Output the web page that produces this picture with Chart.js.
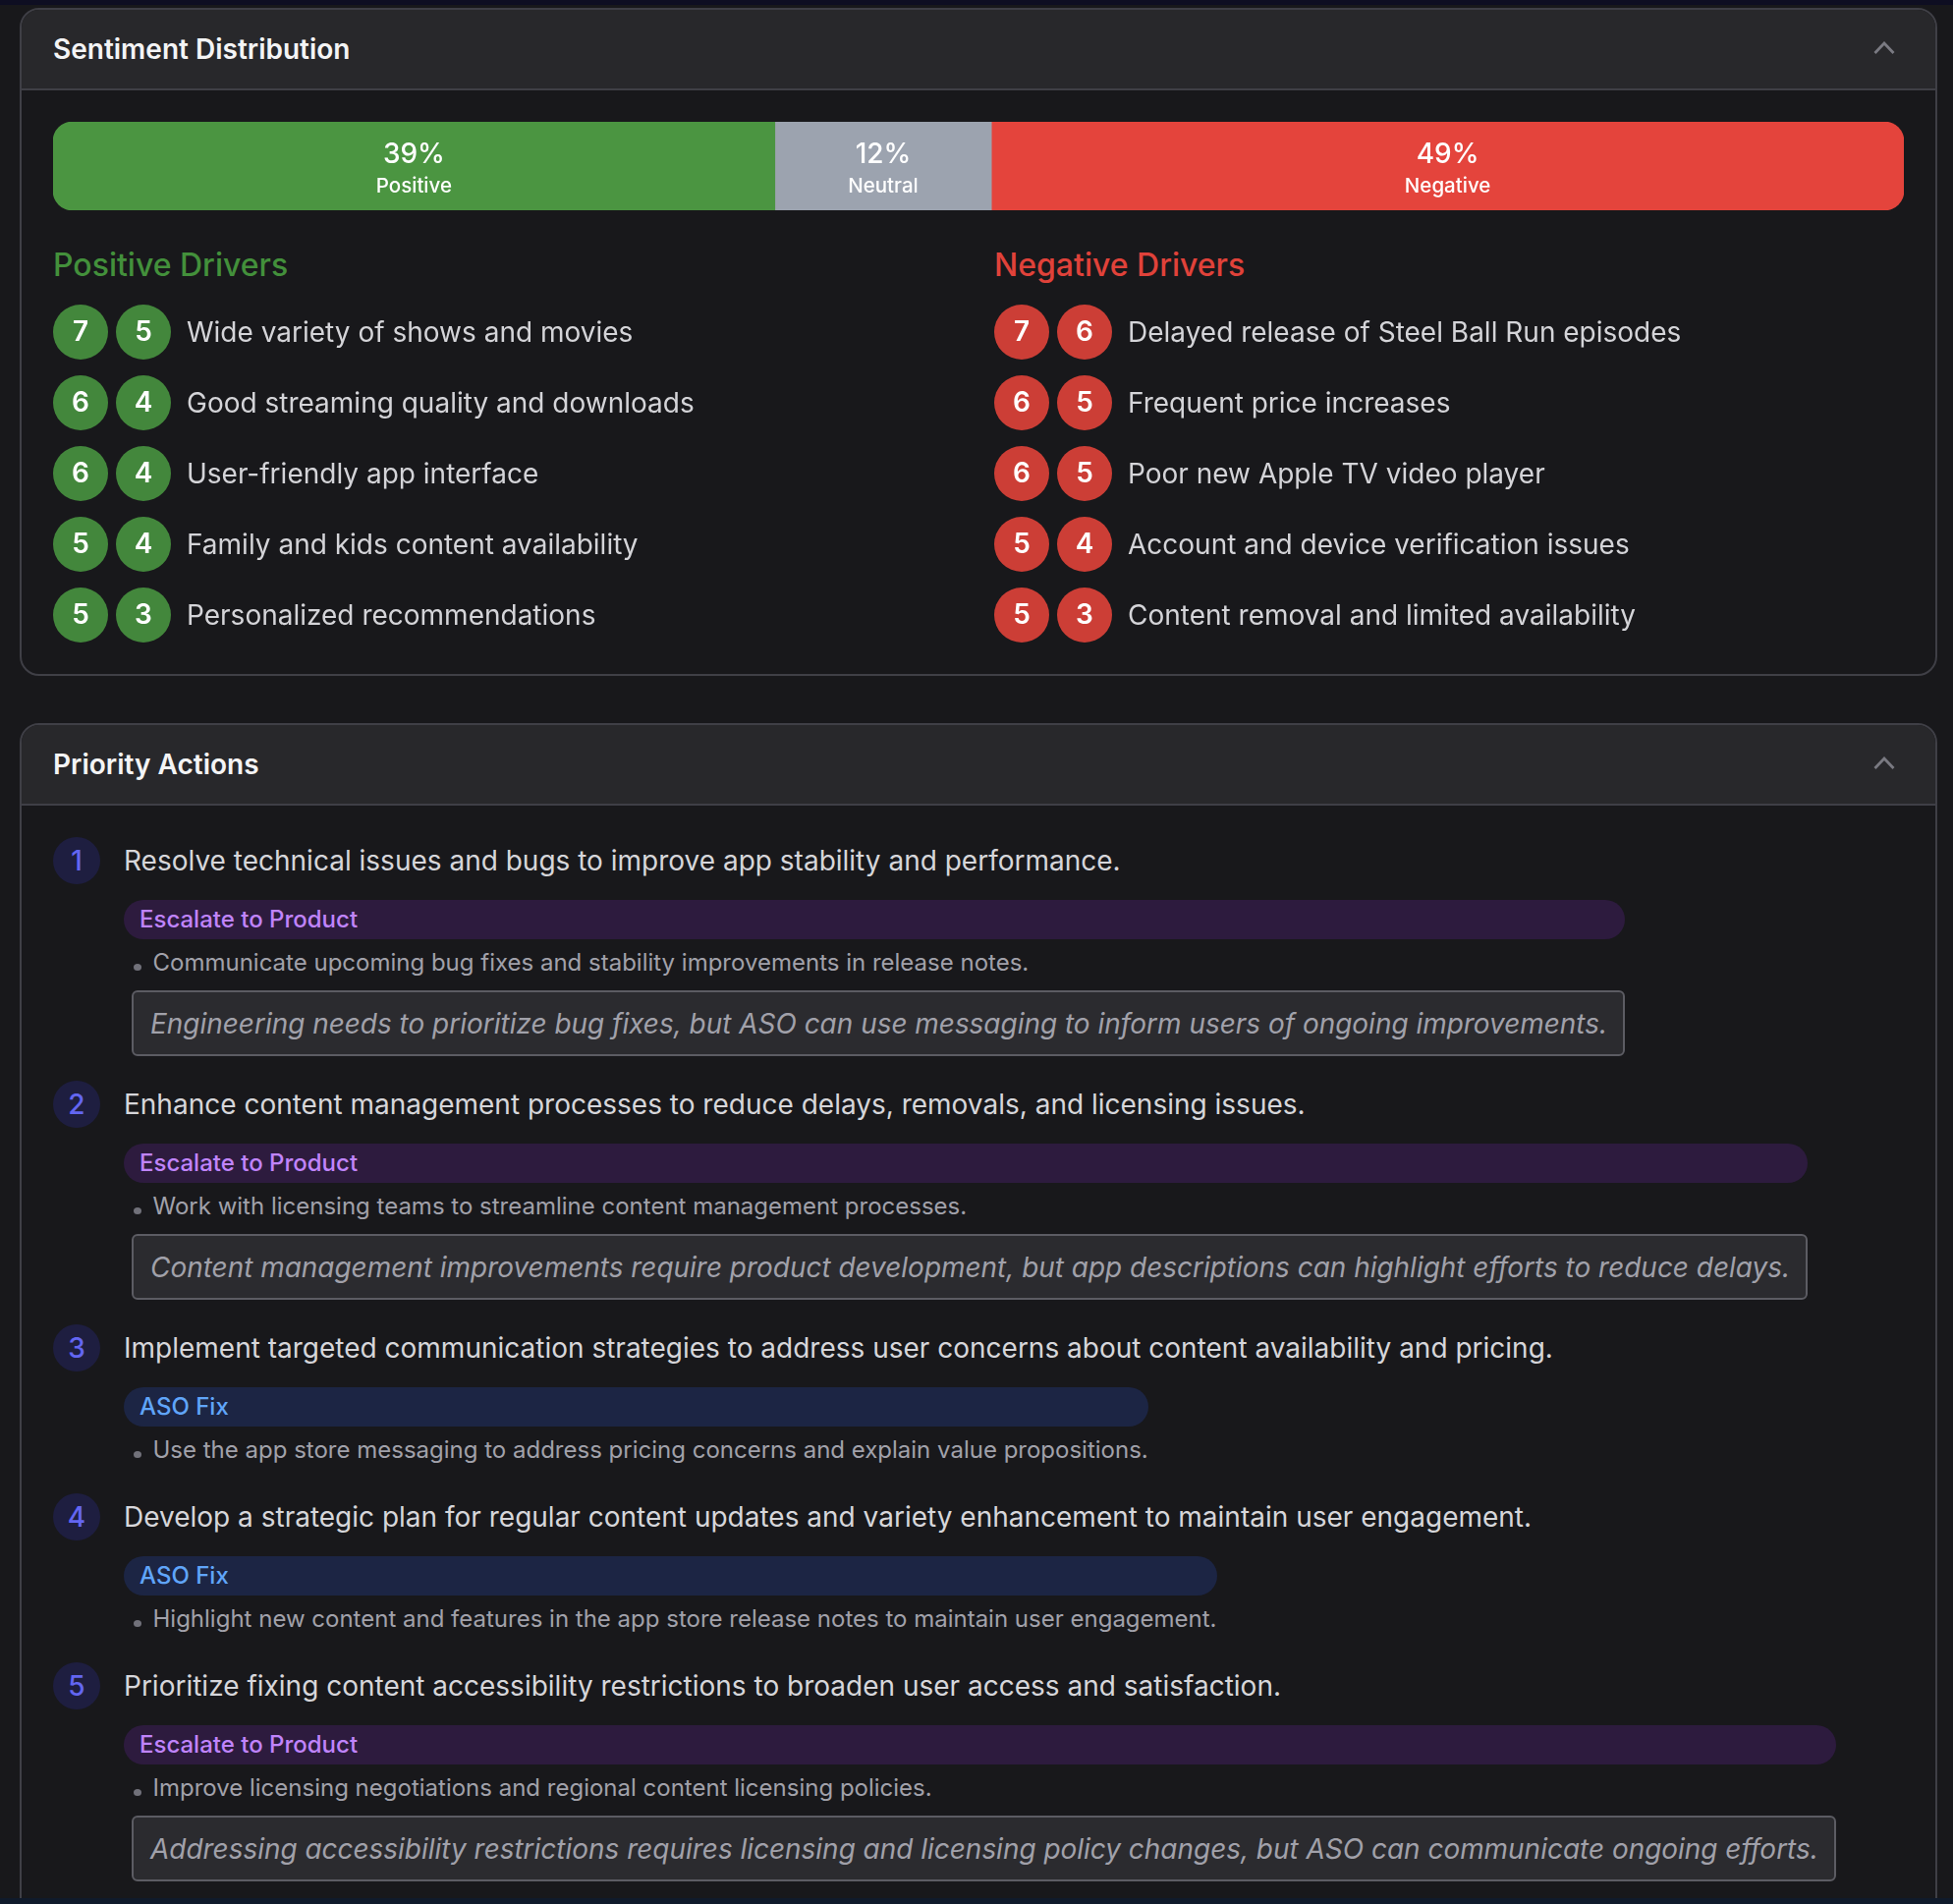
<!DOCTYPE html>
<html>
<head>
<meta charset="utf-8">
<script src="https://cdn.jsdelivr.net/npm/chart.js@4"></script>
<style>
    html, body { margin: 0; padding: 0; background: #18181b; }
    body { width: 1988px; height: 1938px; position: relative; overflow: hidden; font-family: 'Inter', sans-serif; }
    .strip { position: absolute; left: 0; width: 1988px; background: #0e0e22; }
    .page { position: absolute; left: 0; top: 0; width: 1988px; height: 1932px; overflow: hidden; }
    .card { position: absolute; left: 20px; width: 1952px; box-sizing: border-box; border: 2px solid #3f3f46; border-radius: 20px; background: #18181b; overflow: hidden; }
    .card-header { height: 82px; box-sizing: border-box; background: #28282b; border-bottom: 2px solid #3f3f46; color: #f4f4f5; font-size: 28px; font-weight: 600; line-height: 80px; padding-left: 32px; position: relative; }
    .card-header svg { position: absolute; left: 1885px; top: 32px; }
    .drivers-title { position: absolute; font-size: 32px; font-weight: 500; line-height: 40px; top: 250px; }
    canvas { position: absolute; }
    #actions { position: absolute; left: 32px; top: 114px; width: 1880px; }
    .action { position: relative; padding-left: 72px; margin-bottom: 26px; }
    .action.has-note { margin-bottom: 25px; }
    .action .num { position: absolute; left: 0; top: 0; width: 48px; height: 48px; border-radius: 50%; background: #1e1e40; color: #6366f1; font-size: 28px; font-weight: 500; line-height: 48px; text-align: center; }
    .action .title { color: #d6d6da; font-size: 28px; line-height: 48px; white-space: nowrap; margin-bottom: 16px; }
    .action .body { display: inline-flex; flex-direction: column; align-items: stretch; vertical-align: top; }
    .tag { height: 40px; line-height: 40px; border-radius: 20px; padding-left: 16px; font-size: 24px; font-weight: 500; white-space: nowrap; }
    .tag.product { background: #2d1b3e; color: #c084fc; }
    .tag.aso { background: #1c2544; color: #60a5fa; }
    .bullet { position: relative; margin-top: 7px; height: 35px; line-height: 34px; padding-left: 29.5px; color: #a1a1aa; font-size: 24px; white-space: nowrap; }
    .bullet::before { content: ''; position: absolute; left: 10px; top: 18px; width: 8px; height: 7px; border-radius: 50%; background: #71717a; }
    .note { margin: 10px 0 0 8px; height: 67px; box-sizing: border-box; line-height: 64px; border: 2px solid #5c5c63; border-radius: 6px; background: #2b2b2f; color: #a1a1aa; font-size: 27.94px; font-style: italic; padding: 0 16px 0 17px; white-space: nowrap; }
</style>
</head>
<body>
<div class="strip" style="top:0;height:5px"></div>
<div class="page" id="page">
    <div class="card" style="top:8px;height:680px">
        <div class="card-header">Sentiment Distribution<svg width="22" height="14" viewBox="0 0 22 14"><path d="M1.5 12 L11 2 L20.5 12" fill="none" stroke="#7a7a82" stroke-width="2.8"/></svg></div>
    </div>
    <div class="card" style="top:736px;height:1300px">
        <div class="card-header">Priority Actions<svg width="22" height="14" viewBox="0 0 22 14"><path d="M1.5 12 L11 2 L20.5 12" fill="none" stroke="#7a7a82" stroke-width="2.8"/></svg></div>
        <div id="actions"></div>
    </div>
    <canvas id="sentimentChart" width="1884" height="90" style="left:54px;top:124px"></canvas>
    <div class="drivers-title" style="left:54px;color:#43903b">Positive Drivers</div>
    <div class="drivers-title" style="left:1012px;color:#e0423a">Negative Drivers</div>
    <canvas id="positiveChart" width="940" height="360" style="left:54px;top:302px"></canvas>
    <canvas id="negativeChart" width="926" height="360" style="left:1012px;top:302px"></canvas>
</div>
<div class="strip" style="top:1932px;height:6px;background:#0f1a2b"></div>
<script>
// Sentiment split, widths (labels round to 39 / 12 / 49)
const sentimentLabels = ['Positive', 'Neutral', 'Negative'];
const sentimentShares = [39, 11.7, 49.3];

const positiveDrivers = [
    'Wide variety of shows and movies',
    'Good streaming quality and downloads',
    'User-friendly app interface',
    'Family and kids content availability',
    'Personalized recommendations'
];
const positiveFirst = [7, 6, 6, 5, 5];
const positiveSecond = [5, 4, 4, 4, 3];

const negativeDrivers = [
    'Delayed release of Steel Ball Run episodes',
    'Frequent price increases',
    'Poor new Apple TV video player',
    'Account and device verification issues',
    'Content removal and limited availability'
];
const negativeFirst = [7, 6, 6, 5, 5];
const negativeSecond = [6, 5, 5, 4, 3];

const actionTitles = [
    'Resolve technical issues and bugs to improve app stability and performance.',
    'Enhance content management processes to reduce delays, removals, and licensing issues.',
    'Implement targeted communication strategies to address user concerns about content availability and pricing.',
    'Develop a strategic plan for regular content updates and variety enhancement to maintain user engagement.',
    'Prioritize fixing content accessibility restrictions to broaden user access and satisfaction.'
];
const actionTags = ['Escalate to Product', 'Escalate to Product', 'ASO Fix', 'ASO Fix', 'Escalate to Product'];
const actionBullets = [
    'Communicate upcoming bug fixes and stability improvements in release notes.',
    'Work with licensing teams to streamline content management processes.',
    'Use the app store messaging to address pricing concerns and explain value propositions.',
    'Highlight new content and features in the app store release notes to maintain user engagement.',
    'Improve licensing negotiations and regional content licensing policies.'
];
const actionNotes = [
    'Engineering needs to prioritize bug fixes, but ASO can use messaging to inform users of ongoing improvements.',
    'Content management improvements require product development, but app descriptions can highlight efforts to reduce delays.',
    '',
    '',
    'Addressing accessibility restrictions requires licensing and licensing policy changes, but ASO can communicate ongoing efforts.'
];

const sentimentColors = ['#4b9541', '#9ca3af', '#e4443c'];
Chart.defaults.font.family = "'Inter', sans-serif";
Chart.defaults.animation = false;

// Percent and name in the middle of each bar segment
const segmentLabels = {
    id: 'segmentLabels',
    afterDatasetsDraw(chart) {
        const ctx = chart.ctx;
        ctx.save();
        ctx.textAlign = 'center';
        ctx.textBaseline = 'middle';
        ctx.fillStyle = '#ffffff';
        chart.data.datasets.forEach((ds, i) => {
            const bar = chart.getDatasetMeta(i).data[0];
            const cx = (bar.x + bar.base) / 2;
            ctx.font = "500 28px 'Inter', sans-serif";
            ctx.fillText(Math.round(ds.data[0]) + '%', cx, 34);
            ctx.font = "500 20.5px 'Inter', sans-serif";
            ctx.fillText(ds.label, cx, 66);
        });
        ctx.restore();
    }
};

new Chart(document.getElementById('sentimentChart'), {
    type: 'bar',
    data: {
        labels: ['Sentiment'],
        datasets: sentimentLabels.map((label, i) => ({
            label: label,
            data: [sentimentShares[i]],
            backgroundColor: sentimentColors[i],
            borderSkipped: false,
            borderRadius: i === 0 ? { topLeft: 20, bottomLeft: 20 } : i === 2 ? { topRight: 20, bottomRight: 20 } : 0,
            barPercentage: 1,
            categoryPercentage: 1
        }))
    },
    options: {
        indexAxis: 'y',
        responsive: false,
        plugins: { legend: { display: false }, tooltip: { enabled: false } },
        scales: {
            x: { stacked: true, min: 0, max: 100, display: false },
            y: { stacked: true, display: false }
        }
    },
    plugins: [segmentLabels]
});

// Score number in the middle of each circle
const scoreLabels = {
    id: 'scoreLabels',
    afterDatasetsDraw(chart) {
        const ctx = chart.ctx;
        ctx.save();
        ctx.font = "600 28px 'Inter', sans-serif";
        ctx.textAlign = 'center';
        ctx.textBaseline = 'middle';
        ctx.fillStyle = '#ffffff';
        chart.data.datasets.forEach((ds, i) => {
            chart.getDatasetMeta(i).data.forEach((pt, j) => {
                ctx.fillText(ds.scores[j], pt.x, pt.y + 1);
            });
        });
        ctx.restore();
    }
};

function driverChart(canvasId, names, first, second, color, slotGap, textPad) {
    const canvas = document.getElementById(canvasId);
    const toDataset = (scores, slot) => ({
        scores: scores,
        data: names.map(name => ({ x: slot, y: name })),
        backgroundColor: color,
        borderWidth: 0,
        pointRadius: 28,
        pointHoverRadius: 28,
        clip: false
    });
    const xMin = -28 / slotGap;
    new Chart(canvas, {
        type: 'scatter',
        data: { datasets: [toDataset(first, 0), toDataset(second, 1)] },
        options: {
            responsive: false,
            layout: { autoPadding: false },
            plugins: { legend: { display: false }, tooltip: { enabled: false } },
            scales: {
                x: { type: 'linear', min: xMin, max: xMin + canvas.width / slotGap, display: false },
                y: {
                    type: 'category',
                    labels: names,
                    offset: true,
                    grid: { display: false, drawTicks: false },
                    border: { display: false },
                    ticks: {
                        mirror: true,
                        autoSkip: false,
                        padding: textPad,
                        labelOffset: 2,
                        color: '#d4d4d8',
                        font: { size: 28, family: "'Inter', sans-serif" }
                    },
                    // mirrored labels still reserve their padding, so take it back
                    afterFit(scale) {
                        scale.width = 0;
                        scale.paddingTop = 0;
                        scale.paddingBottom = 0;
                    }
                }
            }
        },
        plugins: [scoreLabels]
    });
}

driverChart('positiveChart', positiveDrivers, positiveFirst, positiveSecond, '#43873c', 64, 136);
driverChart('negativeChart', negativeDrivers, negativeFirst, negativeSecond, '#cc3e36', 64, 136);

// Priority action list
const actionsEl = document.getElementById('actions');
actionTitles.forEach((title, i) => {
    const item = document.createElement('div');
    item.className = actionNotes[i] ? 'action has-note' : 'action';
    const tagClass = actionTags[i] === 'ASO Fix' ? 'aso' : 'product';
    item.innerHTML = `
        <div class="num">${i + 1}</div>
        <div class="title">${title}</div>
        <div class="body">
            <div class="tag ${tagClass}">${actionTags[i]}</div>
            <div class="bullet">${actionBullets[i]}</div>
            ${actionNotes[i] ? `<div class="note">${actionNotes[i]}</div>` : ''}
        </div>
    `;
    actionsEl.appendChild(item);
});
</script>
</body>
</html>
